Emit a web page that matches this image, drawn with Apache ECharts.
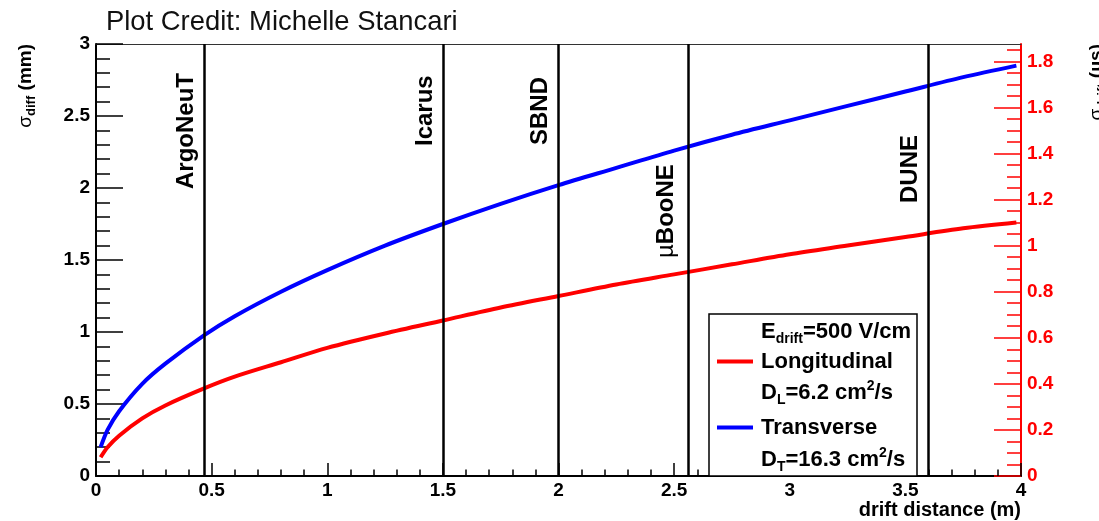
<!DOCTYPE html>
<html><head><meta charset="utf-8">
<script src="https://cdn.jsdelivr.net/npm/echarts@6/dist/echarts.min.js"></script>
<style>html,body{margin:0;padding:0;background:#fff}#c{width:1099px;height:521px}</style>
</head><body><div id="c"></div>
<script>
// ---- data ----
const driftDistance = [0.02, 0.05, 0.1, 0.2, 0.3, 0.47, 0.6, 0.8, 1.0, 1.25, 1.5, 1.75, 2.0, 2.25, 2.5, 2.75, 3.0, 3.25, 3.5, 3.75, 3.98];
const sigmaTransverse = [0.20, 0.32, 0.45, 0.64, 0.78, 0.98, 1.11, 1.28, 1.43, 1.60, 1.75, 1.89, 2.02, 2.14, 2.26, 2.37, 2.47, 2.57, 2.67, 2.77, 2.85];
const sigmaLongitudinal = [0.13, 0.20, 0.28, 0.40, 0.49, 0.61, 0.69, 0.79, 0.89, 0.99, 1.08, 1.17, 1.25, 1.33, 1.40, 1.47, 1.54, 1.60, 1.66, 1.72, 1.76];
const detectorNames = ['ArgoNeuT', 'Icarus', 'SBND', 'µBooNE', 'DUNE'];
const detectorDrift = [0.47, 1.5, 2.0, 2.56, 3.6];
const rightTickValues = [0, 0.2, 0.4, 0.6, 0.8, 1, 1.2, 1.4, 1.6, 1.8];
const rightAxisMax = 1.875;
const legendRows = ['E_drift=500 V/cm', 'Longitudinal', 'D_L=6.2 cm²/s', 'Transverse', 'D_T=16.3 cm²/s'];

const rightMinorTicks = [];
for (let i = 1; i <= 37; i++) { if (i % 4 !== 0) rightMinorTicks.push(+(i * 0.05).toFixed(2)); }

const FONT = '"Liberation Sans", Arial, Helvetica, sans-serif';
const BLACK = '#000';
const RED = '#ff0000';
const BLUE = '#0000ff';

// label placement along / across each detector line (pixels)
const labelDistance = [[287, 6], [330, 6], [331, 6], [218, 10], [273, 6]];

const chart = echarts.init(document.getElementById('c'), null, { renderer: 'canvas' });

const markLineData = detectorDrift.map((x, i) => {
  const name = detectorNames[i];
  const formatter = name.startsWith('µ') ? '{mu|µ}' + name.slice(1) : name;
  return { xAxis: x, name: name, label: { formatter: formatter, distance: labelDistance[i] } };
});

const legendFs = 22;
const legendTextX = 761;
const legendRowY = [332, 362, 393, 428, 460];
const richLegend = {
  sub: { fontSize: 14, fontWeight: 'bold', fontFamily: FONT, verticalAlign: 'bottom', lineHeight: 28, fill: BLACK },
  sup: { fontSize: 14, fontWeight: 'bold', fontFamily: FONT, verticalAlign: 'top', lineHeight: 28, fill: BLACK }
};
function legendText(s) {
  return s.replace(/_([A-Za-z]+)/, '{sub|$1}').replace('²', '{sup|2}');
}

const graphics = [
  { type: 'rect', shape: { x: 709, y: 314, width: 208, height: 162 },
    style: { fill: '#fff', stroke: BLACK, lineWidth: 1.5 }, z: 10 },
  { type: 'line', shape: { x1: 717, y1: 361.5, x2: 753, y2: 361.5 }, style: { stroke: RED, lineWidth: 4 }, z: 11 },
  { type: 'line', shape: { x1: 717, y1: 427.5, x2: 753, y2: 427.5 }, style: { stroke: BLUE, lineWidth: 4 }, z: 11 }
];
legendRows.forEach((row, i) => {
  graphics.push({
    type: 'text', z: 11,
    style: {
      x: legendTextX, y: legendRowY[i], text: legendText(row),
      font: 'bold ' + legendFs + 'px ' + FONT, fill: BLACK,
      verticalAlign: 'middle', align: 'left', lineHeight: 28, rich: richLegend
    }
  });
});

const tickLabelStyle = { fontSize: 19, fontWeight: 'bold', fontFamily: FONT, color: BLACK };
const gridBox = { left: 96, right: 78, top: 44, bottom: 45, containLabel: false, outerBoundsMode: 'none' };

const option = {
  animation: false,
  backgroundColor: '#fff',
  title: {
    text: 'Plot Credit: Michelle Stancari', left: 106, top: 9, padding: 0,
    textStyle: { fontSize: 27.4, fontWeight: 'normal', fontFamily: FONT, color: '#111' }
  },
  grid: [Object.assign({}, gridBox), Object.assign({}, gridBox)],
  xAxis: [{
    type: 'value', gridIndex: 0, min: 0, max: 4, interval: 0.5, position: 'bottom',
    name: 'drift distance (m)', nameLocation: 'end', nameGap: 0, nameMoveOverlap: false,
    nameTextStyle: { fontSize: 20, fontWeight: 'bold', fontFamily: FONT, color: BLACK, align: 'right', verticalAlign: 'top', padding: [24, 0, 0, 0] },
    axisLine: { show: true, onZero: false, lineStyle: { color: BLACK, width: 2 } },
    axisTick: { show: true, inside: true, length: 13, lineStyle: { color: BLACK, width: 1.5 } },
    minorTick: { show: true, splitNumber: 5, length: 6.5, lineStyle: { color: BLACK, width: 1.5 } },
    axisLabel: Object.assign({ margin: 5, showMinLabel: true, showMaxLabel: true, hideOverlap: false }, tickLabelStyle),
    splitLine: { show: false }, minorSplitLine: { show: false }
  }, {
    type: 'value', gridIndex: 0, min: 0, max: 4, position: 'top',
    axisLine: { show: true, onZero: false, lineStyle: { color: '#333', width: 1 } },
    axisTick: { show: false }, axisLabel: { show: false }, splitLine: { show: false }
  }, {
    type: 'value', gridIndex: 1, min: 0, max: 4, position: 'bottom', show: false
  }],
  yAxis: [{
    type: 'value', gridIndex: 0, min: 0, max: 3, interval: 0.5, position: 'left',
    name: '{s|σ}{sub|diff} (mm)', nameLocation: 'end', nameGap: 0, nameRotate: 90, nameMoveOverlap: false,
    nameTextStyle: {
      fontSize: 19, fontWeight: 'bold', fontFamily: FONT, color: BLACK, align: 'right', verticalAlign: 'bottom',
      padding: [0, 0, 58, 0],
      rich: {
        s: { fontSize: 19, fontWeight: 'normal', fontFamily: FONT, color: BLACK },
        sub: { fontSize: 13, fontWeight: 'bold', fontFamily: FONT, color: BLACK, verticalAlign: 'bottom', lineHeight: 24 }
      }
    },
    axisLine: { show: true, onZero: false, lineStyle: { color: BLACK, width: 2 } },
    axisTick: { show: true, inside: true, length: 27, lineStyle: { color: BLACK, width: 1.5 } },
    minorTick: { show: true, splitNumber: 5, length: 14, lineStyle: { color: BLACK, width: 1.5 } },
    axisLabel: Object.assign({ margin: 6, showMinLabel: true, showMaxLabel: true }, tickLabelStyle),
    splitLine: { show: false }, minorSplitLine: { show: false }
  }, {
    type: 'value', gridIndex: 0, min: 0, max: rightAxisMax, position: 'right',
    name: '{s|σ}{sub|drift} (µs)', nameLocation: 'end', nameGap: 0, nameRotate: 90, nameMoveOverlap: false,
    nameTextStyle: {
      fontSize: 19, fontWeight: 'bold', fontFamily: FONT, color: BLACK, align: 'right', verticalAlign: 'top',
      padding: [64, 0, 0, 0],
      rich: {
        s: { fontSize: 19, fontWeight: 'normal', fontFamily: FONT, color: BLACK },
        sub: { fontSize: 13, fontWeight: 'bold', fontFamily: FONT, color: BLACK, verticalAlign: 'bottom', lineHeight: 24 }
      }
    },
    axisLine: { show: true, onZero: false, lineStyle: { color: RED, width: 2 } },
    axisTick: { show: true, inside: true, length: 27, customValues: rightTickValues, lineStyle: { color: RED, width: 1.5 } },
    axisLabel: { show: true, customValues: rightTickValues, margin: 6, fontSize: 19, fontWeight: 'bold', fontFamily: FONT, color: RED },
    splitLine: { show: false }
  }, {
    type: 'value', gridIndex: 1, min: 0, max: rightAxisMax, position: 'right',
    axisLine: { show: false, onZero: false },
    axisTick: { show: true, inside: true, length: 14, customValues: rightMinorTicks, lineStyle: { color: RED, width: 1.5 } },
    axisLabel: { show: false },
    splitLine: { show: false }
  }],
  series: [{
    name: 'Transverse', type: 'line', xAxisIndex: 0, yAxisIndex: 0,
    data: driftDistance.map((x, i) => [x, sigmaTransverse[i]]),
    showSymbol: false, smooth: 0.3, lineStyle: { color: BLUE, width: 4 }, itemStyle: { color: BLUE }, z: 3,
    markLine: {
      silent: true, symbol: ['none', 'none'], animation: false,
      lineStyle: { color: BLACK, width: 2.5, type: 'solid' },
      label: {
        show: true, position: 'insideStartTop', fontSize: 24, fontWeight: 'bold', fontFamily: FONT, color: BLACK,
        rich: { mu: { fontSize: 24, fontWeight: 'normal', fontFamily: FONT, color: BLACK } }
      },
      emphasis: { disabled: true },
      data: markLineData
    }
  }, {
    name: 'Longitudinal', type: 'line', xAxisIndex: 0, yAxisIndex: 0,
    data: driftDistance.map((x, i) => [x, sigmaLongitudinal[i]]),
    showSymbol: false, smooth: 0.3, lineStyle: { color: RED, width: 4 }, itemStyle: { color: RED }, z: 3
  }],
  graphic: graphics
};
chart.setOption(option);
</script>
</body></html>
